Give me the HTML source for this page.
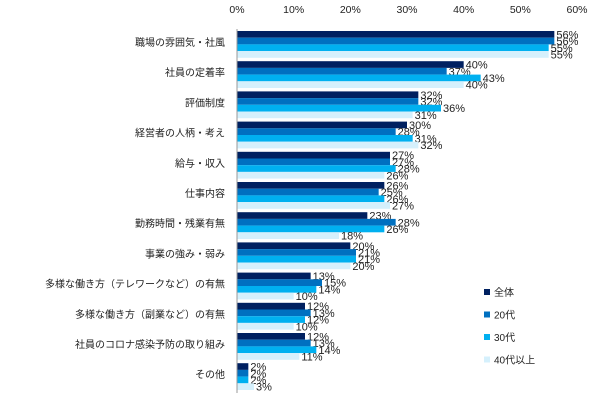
<!DOCTYPE html>
<html><head><meta charset="utf-8"><style>
body{margin:0;background:#fff;}
svg{display:block;font-family:"Liberation Sans","Noto Sans CJK JP",sans-serif;}
</style></head><body>
<svg id="c" width="603" height="401"></svg>
<script>
const categories=["職場の雰囲気・社風","社員の定着率","評価制度","経営者の人柄・考え","給与・収入","仕事内容","勤務時間・残業有無","事業の強み・弱み","多様な働き方（テレワークなど）の有無","多様な働き方（副業など）の有無","社員のコロナ感染予防の取り組み","その他"];
const seriesNames=["全体","20代","30代","40代以上"];
const sAll=[56,40,32,30,27,26,23,20,13,12,12,2];
const s20=[56,37,32,28,27,25,28,21,15,13,13,2];
const s30=[55,43,36,31,28,26,26,21,14,12,14,2];
const s40=[55,40,31,32,26,27,18,20,10,10,11,3];
const ticks=[0,10,20,30,40,50,60];
const series=[sAll,s20,s30,s40];
const colors=["#002060","#0070C0","#00B0F0","#D5F0FC"];
const svg=document.getElementById('c');const NS="http://www.w3.org/2000/svg";
const x0=237,x1=577,y0=30,pitch=30.2,bh=6.7;
const xs=v=>x0+(x1-x0)*v/60;
function mk(t,a,txt){const e=document.createElementNS(NS,t);for(const k in a)e.setAttribute(k,a[k]);if(txt!=null)e.textContent=txt;svg.appendChild(e);return e;}
ticks.forEach(t=>{const e=mk('text',{x:xs(t),y:13,'text-anchor':'middle','font-size':10.5,fill:'#222'},t+'%');

});
categories.forEach((c,i)=>{const gy=y0+1+i*pitch;
const l=mk('text',{x:225,y:gy+15,'text-anchor':'end','font-size':10,fill:'#222'},c);


series.forEach((s,j)=>{const y=gy+j*bh;
const r=mk('rect',{x:x0,y:y,width:xs(s[i])-x0,height:bh,fill:colors[j]});


const t=mk('text',{x:xs(s[i])+2,y:y+bh/2+4,'font-size':11,fill:'#222'},s[i]+'%');

});});
const ax=mk('line',{x1:x0,y1:y0-1,x2:x0,y2:393,stroke:'#999','stroke-width':1});


seriesNames.forEach((n,j)=>{const y=292+j*22.5;
const r=mk('rect',{x:484,y:y-3,width:6,height:6,fill:colors[j]});


const t=mk('text',{x:494,y:y+4,'font-size':10,fill:'#222'},n);

});
</script>
</body></html>
